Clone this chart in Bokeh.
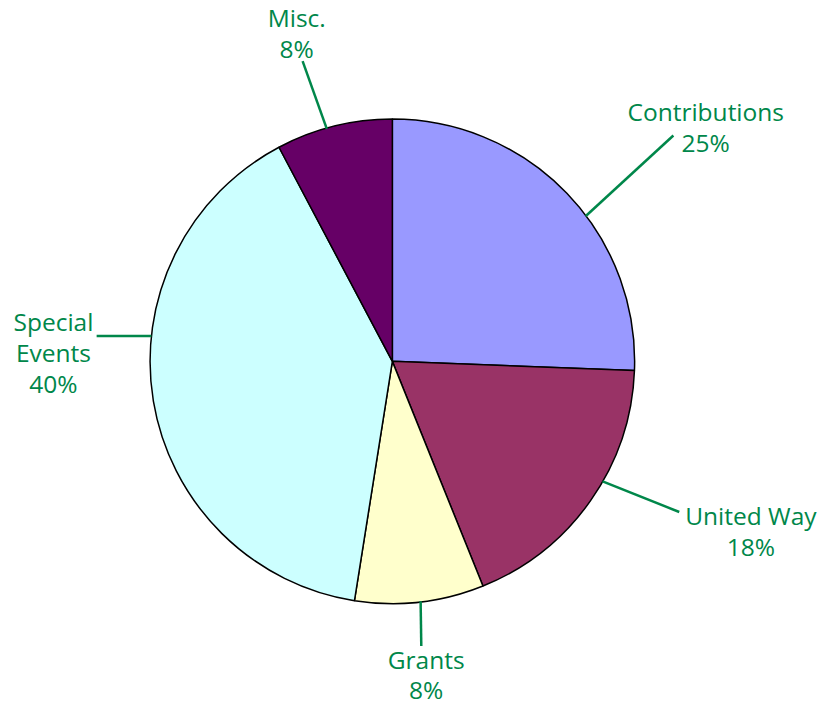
import math
from bokeh.plotting import figure
from bokeh.models import Range1d
from bokeh.core.properties import value
from bokeh.embed import file_html
from bokeh.resources import INLINE

# ---- data ----
categories = ["Contributions", "United Way", "Grants", "Special Events", "Misc."]
shares = [25.6, 18.3, 8.6, 39.75, 7.75]
pct_labels = ["25%", "18%", "8%", "40%", "8%"]
label_lines = [["Contributions"], ["United Way"], ["Grants"], ["Special", "Events"], ["Misc."]]
colors = ["#9999FF", "#993366", "#FFFFCC", "#CCFFFF", "#660066"]

# ---- layout (reference pixel coords, y down; reference is 836x726) ----
REF_W, REF_H = 836, 726
W, H = 820, 710
CX, CY, R = 399.5, 369.0, 247.0
# leader: angle on pie edge (deg), outer end point
leader_angle = [37.0, -29.8, -83.3, 174.0, 105.7]
leader_end = [(686, 138), (692, 523), (429, 660), (98, 343), (308, 62)]
# text: center x, first baseline y
text_pos = [(719, 124), (765, 537), (434, 684), (54, 339), (302, 28)]
TEXT_SHIFT = -10.5
LINE_H = 31.5
GREEN = "#00874A"
FONT = "Open Sans"


def Y(img_y):
    return REF_H - img_y


p = figure(width=W, height=H, output_backend="svg", toolbar_location=None,
           x_range=Range1d(0, REF_W), y_range=Range1d(0, REF_H),
           min_border=0)
p.axis.visible = False
p.grid.visible = False
p.outline_line_color = None
p.background_fill_color = "white"

total = sum(shares)
cum = 0.0
for share, col in zip(shares, colors):
    a0 = math.radians(90 - 360 * cum / total)
    cum += share
    a1 = math.radians(90 - 360 * cum / total)
    p.wedge(x=[CX], y=[Y(CY)], radius=R,
            start_angle=[a0], end_angle=[a1], direction="clock",
            fill_color=col, line_color="black", line_width=1.5)

for ang, (ex, ey) in zip(leader_angle, leader_end):
    a = math.radians(ang)
    sx = CX + R * math.cos(a)
    sy = CY - R * math.sin(a)
    p.line(x=[sx, ex], y=[Y(sy), Y(ey)], line_color=GREEN, line_width=2.5)

for lines, pct, (tx, ty) in zip(label_lines, pct_labels, text_pos):
    all_lines = lines + [pct]
    xs = [tx] * len(all_lines)
    ys = [Y(ty + TEXT_SHIFT + i * LINE_H) for i in range(len(all_lines))]
    p.text(x=xs, y=ys, text=all_lines, text_font=value(FONT),
           text_font_size="24.5px", text_color=GREEN,
           text_align="center", text_baseline="alphabetic")

open("out.html", "w").write(file_html(p, INLINE))
